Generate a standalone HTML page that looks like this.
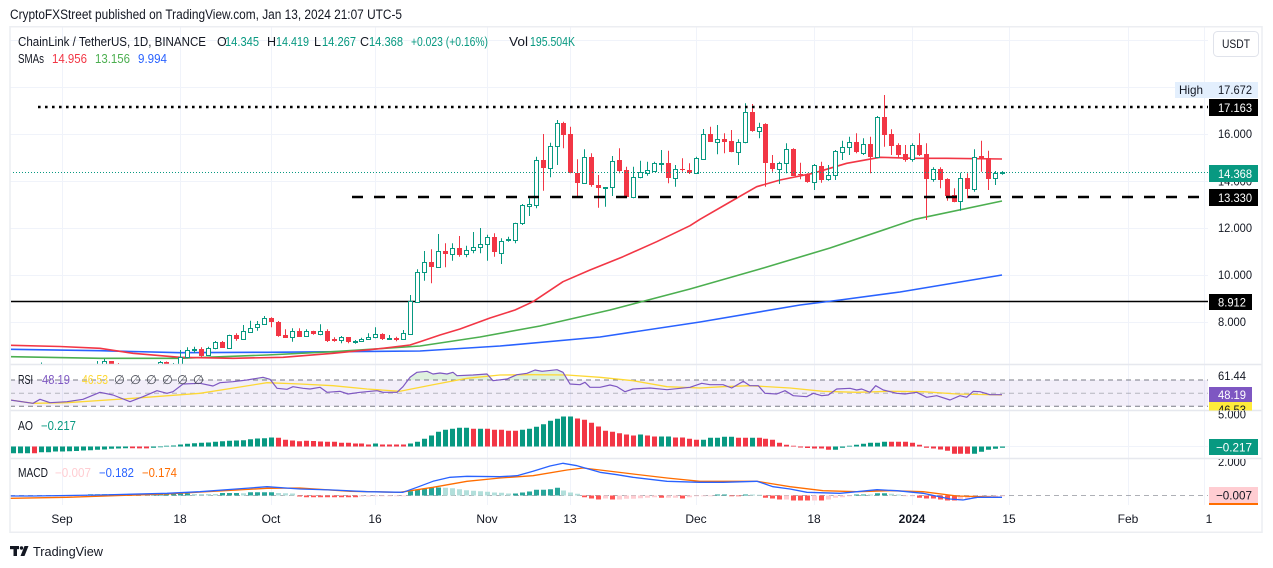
<!DOCTYPE html>
<html><head><meta charset="utf-8">
<style>
html,body{margin:0;padding:0;background:#fff;width:1273px;height:568px;overflow:hidden}
svg{display:block}
text{font-family:"Liberation Sans",sans-serif;fill:#131722}
</style></head><body>
<svg width="1273" height="568" viewBox="0 0 1273 568" xmlns="http://www.w3.org/2000/svg">
<defs>
<clipPath id="cp"><rect x="11" y="27" width="1197" height="337"/></clipPath>
<clipPath id="crsi"><rect x="11" y="365" width="1197" height="45"/></clipPath>
<clipPath id="crsiA"><rect x="1150" y="365" width="112" height="45.5"/></clipPath>
<clipPath id="cao"><rect x="1150" y="411" width="112" height="47"/></clipPath>
<clipPath id="cmacd"><rect x="1150" y="459" width="112" height="46"/></clipPath>
<clipPath id="cob"><rect x="11" y="360" width="1197" height="20"/></clipPath>
</defs>
<rect x="0" y="0" width="1273" height="568" fill="#fff"/>

<!-- grid -->
<g stroke="#f0f3fa" stroke-width="1">
<line x1="62.5" x2="62.5" y1="27" y2="505"/>
<line x1="180.5" x2="180.5" y1="27" y2="505"/>
<line x1="271.5" x2="271.5" y1="27" y2="505"/>
<line x1="375.5" x2="375.5" y1="27" y2="505"/>
<line x1="487.5" x2="487.5" y1="27" y2="505"/>
<line x1="570.5" x2="570.5" y1="27" y2="505"/>
<line x1="696.5" x2="696.5" y1="27" y2="505"/>
<line x1="814.5" x2="814.5" y1="27" y2="505"/>
<line x1="912.5" x2="912.5" y1="27" y2="505"/>
<line x1="1009.5" x2="1009.5" y1="27" y2="505"/>
<line x1="1128.5" x2="1128.5" y1="27" y2="505"/>
<line x1="1204.5" x2="1204.5" y1="27" y2="505"/>
<line x1="10" x2="1208" y1="40.5" y2="40.5"/>
<line x1="10" x2="1208" y1="87.5" y2="87.5"/>
<line x1="10" x2="1208" y1="134.5" y2="134.5"/>
<line x1="10" x2="1208" y1="181.5" y2="181.5"/>
<line x1="10" x2="1208" y1="228.5" y2="228.5"/>
<line x1="10" x2="1208" y1="275.5" y2="275.5"/>
<line x1="10" x2="1208" y1="322.5" y2="322.5"/>
<line x1="10" x2="1208" y1="446.5" y2="446.5"/>
</g>

<!-- price pane -->
<g clip-path="url(#cp)">
<line x1="10" x2="1208" y1="301.5" y2="301.5" stroke="#000" stroke-width="1.6"/>
<polyline fill="none" stroke="#2962ff" stroke-width="1.6" stroke-linejoin="round" points="10,349.3 100,350.7 180,352.7 267,352.3 420,351 500,346 600,337 700,322 800,305 840,300 900,292 1002,275"/>
<polyline fill="none" stroke="#4caf50" stroke-width="1.6" stroke-linejoin="round" points="10,356.7 100,358.3 180,358.3 267,355 333,351.7 420,346 480,337 540,326 610,310 690,289 760,269 830,248 915,219.3 1002,201"/>
<polyline fill="none" stroke="#f23645" stroke-width="1.6" stroke-linejoin="round" points="10,345.3 60,346.5 100,348.3 133,353.3 180,357.3 233,358.3 283,357.3 333,353.3 383,348.3 410,345 420,341.7 440,335 460,329 490,318 515,310 533,301.7 563,281.7 590,270 623,256.7 656.7,241.7 690,225.7 700,219.3 730,202 756.7,186.7 780,180 813,173.3 846.7,163.3 880,157.3 913,158.3 946.7,158.3 1002,159"/>

<!-- red wicks -->
<path fill="none" stroke="#f23645" stroke-width="1" d="M13.5 366V378M27.5 366V376M48.5 364V372M55.5 366V374M62.5 367V376M69.5 368V378M76.5 368V380M111.5 361V369M118.5 363V370M125.5 365V373M132.5 366V378M146.5 366V374M166.5 361.5V369M201.5 347.3V356.7M222.5 341V348M236.5 333.3V340.7M271.5 317.3V327.3M278.5 321V336.7M285.5 329.3V337.7M299.5 328.3V337M313.5 330.7V334.7M327.5 329.3V342M334.5 337.3V341.7M348.5 337V343.3M382.5 333.3V340M396.5 336.7V341.3M431.5 249.3V283.3M445.5 243.3V267.3M459.5 236V256.7M494.5 233.3V256.7M543.5 134V190.7M563.5 121.7V148.3M570.5 126.7V173.3M577.5 159.3V196M591.5 153.3V186.7M598.5 175V207.7M619.5 148.3V173.3M626.5 166.7V197.3M668.5 150.7V183.3M682.5 158.3V171.7M689.5 163.3V174M710.5 126.7V141.7M724.5 133.3V153.3M731.5 130V152.3M752.5 104V131.7M765.5 123.3V186.7M772.5 155V171.7M793.5 148.3V176M800.5 162.7V179.3M807.5 173.3V182.7M821.5 161.7V182.7M856.5 133.3V153.3M870.5 136.7V173.3M884.5 95V146.7M891.5 129.3V155M898.5 143.3V158.3M905.5 145V161.7M919.5 133.3V156M926.5 143.3V220M940.5 167.3V188.3M947.5 178.3V200.7M954.5 188.3V202.3M967.5 173.3V198.3M981.5 140.7V171.7M988.5 150.7V190"/>
<!-- red bodies -->
<path fill="#f23645" d="M11 370h5v2h-5zM25 369h5v2h-5zM46 365h5v4h-5zM53 369h5v2h-5zM60 371h5v1h-5zM67 372h5v2h-5zM74 374h5v2h-5zM109 361h5v5h-5zM116 366h5v2h-5zM123 368h5v2h-5zM130 370h5v4h-5zM144 368h5v2h-5zM164 362h5v4h-5zM199 349h5v7h-5zM220 342h5v6h-5zM234 335h5v4h-5zM269 318h5v4h-5zM276 322h5v14h-5zM283 335h5v3h-5zM297 331h5v6h-5zM311 331h5v3h-5zM325 331h5v10h-5zM332 339h5v2h-5zM346 337h5v5h-5zM380 334h5v5h-5zM394 338h5v2h-5zM429 262h5v5h-5zM443 251h5v3h-5zM457 248h5v7h-5zM492 237h5v15h-5zM541 160h5v8h-5zM561 123h5v12h-5zM568 134h5v39h-5zM575 173h5v10h-5zM589 157h5v28h-5zM596 185h5v3h-5zM617 160h5v11h-5zM624 170h5v27h-5zM666 163h5v15h-5zM680 169h5v1h-5zM687 170h5v3h-5zM708 134h5v8h-5zM722 139h5v3h-5zM729 141h5v11h-5zM750 112h5v19h-5zM763 124h5v39h-5zM770 163h5v6h-5zM791 149h5v27h-5zM798 174h5v1h-5zM805 174h5v8h-5zM819 166h5v14h-5zM854 142h5v10h-5zM868 144h5v13h-5zM882 117h5v18h-5zM889 134h5v12h-5zM896 145h5v10h-5zM903 154h5v6h-5zM917 145h5v10h-5zM924 154h5v25h-5zM938 169h5v11h-5zM945 179h5v17h-5zM952 195h5v7h-5zM965 178h5v11h-5zM979 156h5v2h-5zM986 158h5v21h-5z"/>
<!-- green wicks -->
<path fill="none" stroke="#089981" stroke-width="1" d="M20.5 367V369.5M20.5 372.5V377M34.5 366V368.5M34.5 371.5V378M41.5 362.5V365.5M41.5 368.5V372M83.5 370V372.5M83.5 376.5V383M90.5 366V367.5M90.5 372.5V376M97.5 361V364.5M97.5 367.5V370M104.5 359V361.5M104.5 364.5V367M139.5 366V368.5M139.5 374.5V380M153.5 365V366.5M153.5 370.5V374M160.5 361V362.5M160.5 366.5V369M173.5 363V365.5M173.5 366.5V370M180.5 350V357.5M180.5 364.5V365M187.5 347.3V350.5M187.5 357.5V358.3M194.5 346.7V349.5M194.5 350.5V352.7M208.5 346.7V348.5M208.5 355.5V356M215.5 341V342.5M215.5 348.5V349.3M229.5 334.7V335.5M243.5 325V331.5M250.5 320.7V328.5M257.5 321V324.5M257.5 327.5V330.7M264.5 316V318.5M264.5 324.5V325M292.5 328.3V331.5M292.5 337.5V341.7M306.5 329.3V331.5M320.5 324.3V331.5M320.5 334.5V335.3M341.5 336V337.5M341.5 340.5V343.3M355.5 340V341.5M355.5 342.5V343.7M361.5 337.7V339.5M368.5 333.3V337.5M375.5 327.3V334.5M375.5 337.5V338.3M389.5 335V338.5M389.5 339.5V340M403.5 330V333.5M403.5 339.5V340M410.5 295V301.5M410.5 334.5V335M417.5 269.3V272.5M424.5 251V262.5M424.5 272.5V280.7M438.5 234V251.5M452.5 243.3V248.5M452.5 254.5V260.7M466.5 245.7V250.5M466.5 254.5V257.3M473.5 232V247.5M473.5 250.5V253.3M480.5 228V244.5M480.5 247.5V253.3M487.5 234.7V237.5M487.5 244.5V260.7M501.5 238.3V241.5M501.5 253.5V264M508.5 236.7V239.5M508.5 240.5V241.7M515.5 222.7V223.5M515.5 240.5V243.3M522.5 204V205.5M522.5 223.5V225M529.5 198.3V204.5M529.5 206.5V216M536.5 156.7V160.5M536.5 205.5V208.3M550.5 142.7V146.5M550.5 168.5V177.3M557.5 120V123.5M557.5 146.5V165M584.5 149.3V157.5M584.5 183.5V184M605.5 187V187.5M605.5 188.5V206.7M612.5 156V161.5M612.5 187.5V196M633.5 166.7V177.5M633.5 197.5V198.3M640.5 160.7V172.5M640.5 177.5V178.3M647.5 161.7V170.5M647.5 173.5V175.7M654.5 161.7V163.5M661.5 150V163.5M661.5 164.5V171.7M675.5 165V169.5M675.5 178.5V186.7M696.5 156.7V158.5M696.5 173.5V174M703.5 129V134.5M703.5 159.5V160M717.5 125V139.5M717.5 142.5V154.3M738.5 139.3V142.5M738.5 152.5V165M745.5 103.3V112.5M745.5 142.5V143.3M759.5 122.7V127.5M759.5 131.5V138.3M779.5 161.7V163.5M779.5 169.5V184M786.5 143.3V149.5M786.5 163.5V173.3M814.5 164V165.5M814.5 182.5V190M828.5 165V175.5M828.5 179.5V180.7M835.5 150V151.5M835.5 175.5V180M842.5 140.7V147.5M842.5 152.5V160M849.5 136.7V142.5M849.5 147.5V155M863.5 138.3V144.5M863.5 153.5V155M877.5 116V117.5M877.5 157.5V158.3M912.5 143.3V145.5M912.5 159.5V161.7M933.5 167.3V169.5M933.5 179.5V181.7M960.5 172.7V178.5M960.5 201.5V210.7M974.5 149.3V157.5M974.5 189.5V191.7M995.5 171V173.5M995.5 178.5V185M1002.5 171.1V172.5M1002.5 173.5V174.7"/>
<!-- green hollow bodies -->
<path fill="#fff" stroke="#089981" stroke-width="1" d="M18.5 369.5h4v3h-4zM32.5 368.5h4v3h-4zM39.5 365.5h4v3h-4zM81.5 372.5h4v4h-4zM88.5 367.5h4v5h-4zM95.5 364.5h4v3h-4zM102.5 361.5h4v3h-4zM137.5 368.5h4v6h-4zM151.5 366.5h4v4h-4zM158.5 362.5h4v4h-4zM171.5 365.5h4v1h-4zM178.5 357.5h4v7h-4zM185.5 350.5h4v7h-4zM192.5 349.5h4v1h-4zM206.5 348.5h4v7h-4zM213.5 342.5h4v6h-4zM227.5 335.5h4v13h-4zM241.5 331.5h4v8h-4zM248.5 328.5h4v4h-4zM255.5 324.5h4v3h-4zM262.5 318.5h4v6h-4zM290.5 331.5h4v6h-4zM304.5 331.5h4v5h-4zM318.5 331.5h4v3h-4zM339.5 337.5h4v3h-4zM353.5 341.5h4v1h-4zM359.5 339.5h4v2h-4zM366.5 337.5h4v2h-4zM373.5 334.5h4v3h-4zM387.5 338.5h4v1h-4zM401.5 333.5h4v6h-4zM408.5 301.5h4v33h-4zM415.5 272.5h4v30h-4zM422.5 262.5h4v10h-4zM436.5 251.5h4v16h-4zM450.5 248.5h4v6h-4zM464.5 250.5h4v4h-4zM471.5 247.5h4v3h-4zM478.5 244.5h4v3h-4zM485.5 237.5h4v7h-4zM499.5 241.5h4v12h-4zM506.5 239.5h4v1h-4zM513.5 223.5h4v17h-4zM520.5 205.5h4v18h-4zM527.5 204.5h4v2h-4zM534.5 160.5h4v45h-4zM548.5 146.5h4v22h-4zM555.5 123.5h4v23h-4zM582.5 157.5h4v26h-4zM603.5 187.5h4v1h-4zM610.5 161.5h4v26h-4zM631.5 177.5h4v20h-4zM638.5 172.5h4v5h-4zM645.5 170.5h4v3h-4zM652.5 163.5h4v8h-4zM659.5 163.5h4v1h-4zM673.5 169.5h4v9h-4zM694.5 158.5h4v15h-4zM701.5 134.5h4v25h-4zM715.5 139.5h4v3h-4zM736.5 142.5h4v10h-4zM743.5 112.5h4v30h-4zM757.5 127.5h4v4h-4zM777.5 163.5h4v6h-4zM784.5 149.5h4v14h-4zM812.5 165.5h4v17h-4zM826.5 175.5h4v4h-4zM833.5 151.5h4v24h-4zM840.5 147.5h4v5h-4zM847.5 142.5h4v5h-4zM861.5 144.5h4v9h-4zM875.5 117.5h4v40h-4zM910.5 145.5h4v14h-4zM931.5 169.5h4v10h-4zM958.5 178.5h4v23h-4zM972.5 157.5h4v32h-4zM993.5 173.5h4v5h-4zM1000.5 172.5h4v1h-4z"/>

<!-- horizontal drawings -->
<line x1="38" x2="1208" y1="107" y2="107" stroke="#000" stroke-width="2.6" stroke-dasharray="2.6 4.4"/>
<line x1="352" x2="1208" y1="197" y2="197" stroke="#000" stroke-width="2.6" stroke-dasharray="11 11"/>
<line x1="10" x2="1208" y1="172.5" y2="172.5" stroke="#089981" stroke-width="1" stroke-dasharray="1 2"/>
</g>

<!-- RSI pane -->
<g clip-path="url(#crsi)">
<rect x="10" y="380" width="1198" height="26.3" fill="rgba(126,87,194,0.1)"/>
<g clip-path="url(#cob)">
<polygon fill="rgba(76,175,80,0.18)" points="10,380 10,400 33,403.3 40,399.3 50,402.7 67,401.7 83,399.3 100,392.3 113,395 130,401.7 143,396.7 157,390.7 167,393.3 173,391.7 183,384 200,383.3 213,386 220,382.7 233,381.7 247,380 263,377.3 270,379.3 277,388.3 287,389.3 293,386.7 303,388.3 310,389 320,387.3 327,392.3 340,391.3 348,394 360,392.3 377,390.7 383,392.3 397,392.3 403,386.7 410,377.3 417,372.3 427,371.3 433,374 440,373 447,374 453,372.3 457,375.7 473,375 487,374 493,380.7 507,379 517,374.7 527,373.3 535,370 542,371.3 548,370.7 557,369.7 563,372.3 570,384 580,384.7 585,382.3 590,387.3 600,387.3 1002,394.7 1002,380"/>
</g>
<line x1="10" x2="1208" y1="380" y2="380" stroke="#787b86" stroke-width="1" stroke-dasharray="5 4"/>
<line x1="10" x2="1208" y1="393.3" y2="393.3" stroke="rgba(120,123,134,0.5)" stroke-width="1" stroke-dasharray="5 4"/>
<line x1="10" x2="1208" y1="406.3" y2="406.3" stroke="#787b86" stroke-width="1" stroke-dasharray="5 4"/>
<polyline fill="none" stroke="#fdd835" stroke-width="1.3" stroke-linejoin="round" points="10,400 33,403.3 67,402.7 133,398.3 200,393.3 267,382.7 300,384 333,385.7 367,389 400,391.3 433,384.7 467,378.3 500,375 533,374.7 567,375 600,377.3 633,380.7 667,386.7 700,388 723,386.7 750,385.7 790,388 823,391.3 857,392.3 890,391.3 923,391.7 957,394 1002,395"/>
<polyline fill="none" stroke="#7e57c2" stroke-width="1.2" stroke-linejoin="round" points="10,400 33,403.3 40,399.3 50,402.7 67,401.7 83,399.3 100,392.3 113,395 130,401.7 143,396.7 157,390.7 167,393.3 173,391.7 183,384 200,383.3 213,386 220,382.7 233,381.7 247,380 263,377.3 270,379.3 277,388.3 287,389.3 293,386.7 303,388.3 310,389 320,387.3 327,392.3 340,391.3 348,394 360,392.3 377,390.7 383,392.3 397,392.3 403,386.7 410,377.3 417,372.3 427,371.3 433,374 440,373 447,374 453,372.3 457,375.7 473,375 487,374 493,380.7 507,379 517,374.7 527,373.3 535,370 542,371.3 548,370.7 557,369.7 563,372.3 570,384 580,384.7 585,382.3 590,387.3 600,387.3 610,385 617,386.7 625,391.7 633,389 650,388 667,389.7 690,387.3 701.7,383.3 710,384.7 723,384.7 731.7,388 743.3,381.3 750,385.7 758.3,385.7 765,393.3 776.7,394 785,390.7 793.3,395.7 806.7,396.7 813.3,393.3 821.7,395.7 828.3,395 836.7,389 850,388.3 856.7,390 861.7,389 870,392.3 875.7,385.7 883.3,390 896.7,393.3 905,394 916.7,392.3 926.7,397.3 936.7,395.7 950,400 960,395.7 966.7,397.3 973.3,391.3 980,391.7 990,394.7 1002,394.7"/>
</g>

<!-- AO -->
<path fill="#089981" d="M11 446.5h5V453.2h-5zM18 446.5h5V453.2h-5zM25 446.5h5V453.2h-5zM39 446.5h5V452.2h-5zM46 446.5h5V452.2h-5zM53 446.5h5V451.5h-5zM60 446.5h5V451.5h-5zM67 446.5h5V451.2h-5zM74 446.5h5V451h-5zM81 446.5h5V450.5h-5zM88 446.5h5V450.3h-5zM95 446.5h5V449.8h-5zM102 446.5h5V449.5h-5zM109 446.5h5V448.8h-5zM116 446.5h5V448.5h-5zM123 446.5h5V448.2h-5zM151 446.5h5V447.8h-5zM158 446.5h5V447.3h-5zM164 446.5h5V445.7h-5zM171 446.5h5V445.5h-5zM178 446.5h5V444.5h-5zM185 446.5h5V443.8h-5zM192 446.5h5V443.2h-5zM199 446.5h5V442.8h-5zM206 446.5h5V442.5h-5zM213 446.5h5V441.8h-5zM220 446.5h5V441.2h-5zM227 446.5h5V440.8h-5zM234 446.5h5V440.5h-5zM241 446.5h5V440.2h-5zM248 446.5h5V439.2h-5zM255 446.5h5V438.5h-5zM262 446.5h5V438.2h-5zM269 446.5h5V437.5h-5zM373 446.5h5V443.5h-5zM408 446.5h5V443.5h-5zM415 446.5h5V441.8h-5zM422 446.5h5V438.8h-5zM429 446.5h5V435.5h-5zM436 446.5h5V431.8h-5zM443 446.5h5V429.8h-5zM450 446.5h5V428.8h-5zM457 446.5h5V427.8h-5zM464 446.5h5V427.8h-5zM478 446.5h5V428.8h-5zM520 446.5h5V429.8h-5zM527 446.5h5V428.8h-5zM534 446.5h5V426.8h-5zM541 446.5h5V424.2h-5zM548 446.5h5V420.8h-5zM555 446.5h5V418.8h-5zM561 446.5h5V416.5h-5zM568 446.5h5V416.5h-5zM638 446.5h5V434.5h-5zM659 446.5h5V436.5h-5zM666 446.5h5V436.5h-5zM701 446.5h5V439.8h-5zM708 446.5h5V437.8h-5zM715 446.5h5V437.8h-5zM722 446.5h5V436.8h-5zM729 446.5h5V436.8h-5zM750 446.5h5V437.8h-5zM833 446.5h5V449.8h-5zM840 446.5h5V447.8h-5zM847 446.5h5V445.7h-5zM854 446.5h5V444.8h-5zM861 446.5h5V443.8h-5zM868 446.5h5V442.8h-5zM875 446.5h5V442.8h-5zM882 446.5h5V441.8h-5zM972 446.5h5V453.8h-5zM979 446.5h5V451.8h-5zM986 446.5h5V449.8h-5zM993 446.5h5V448.8h-5zM1000 446.5h5V447.8h-5z"/>
<path fill="#f23645" d="M32 446.5h5V453.2h-5zM130 446.5h5V448.3h-5zM137 446.5h5V448.4h-5zM144 446.5h5V448.4h-5zM276 446.5h5V437.8h-5zM283 446.5h5V439.8h-5zM290 446.5h5V440.5h-5zM297 446.5h5V441.2h-5zM304 446.5h5V440.8h-5zM311 446.5h5V441h-5zM318 446.5h5V441.5h-5zM325 446.5h5V441.8h-5zM332 446.5h5V441.8h-5zM339 446.5h5V442.8h-5zM346 446.5h5V442.8h-5zM353 446.5h5V443.5h-5zM359 446.5h5V443.5h-5zM366 446.5h5V444.5h-5zM380 446.5h5V444.5h-5zM387 446.5h5V444.5h-5zM394 446.5h5V444.5h-5zM401 446.5h5V444.5h-5zM471 446.5h5V428.8h-5zM485 446.5h5V428.8h-5zM492 446.5h5V429.8h-5zM499 446.5h5V429.8h-5zM506 446.5h5V430.8h-5zM513 446.5h5V430.8h-5zM575 446.5h5V418.5h-5zM582 446.5h5V419.8h-5zM589 446.5h5V422.8h-5zM596 446.5h5V426.5h-5zM603 446.5h5V430.8h-5zM610 446.5h5V431.8h-5zM617 446.5h5V433.2h-5zM624 446.5h5V434.5h-5zM631 446.5h5V435.5h-5zM645 446.5h5V435.5h-5zM652 446.5h5V436.5h-5zM673 446.5h5V437.5h-5zM680 446.5h5V437.5h-5zM687 446.5h5V438.8h-5zM694 446.5h5V439.8h-5zM736 446.5h5V437.8h-5zM743 446.5h5V437.8h-5zM757 446.5h5V437.8h-5zM763 446.5h5V438.8h-5zM770 446.5h5V439.8h-5zM777 446.5h5V442.8h-5zM784 446.5h5V444.8h-5zM791 446.5h5V445.7h-5zM798 446.5h5V447.5h-5zM805 446.5h5V448h-5zM812 446.5h5V448.5h-5zM819 446.5h5V448.5h-5zM826 446.5h5V449.8h-5zM889 446.5h5V441.8h-5zM896 446.5h5V441.8h-5zM903 446.5h5V441.8h-5zM910 446.5h5V442.8h-5zM917 446.5h5V444.8h-5zM924 446.5h5V447.8h-5zM931 446.5h5V448.5h-5zM938 446.5h5V449.5h-5zM945 446.5h5V450.8h-5zM952 446.5h5V453.8h-5zM958 446.5h5V453.8h-5zM965 446.5h5V453.8h-5z"/>

<!-- MACD -->
<line x1="10" x2="1208" y1="495.5" y2="495.5" stroke="rgba(120,123,134,0.6)" stroke-width="1" stroke-dasharray="5 4"/>
<path fill="#ff5252" d="M11 495.5h5V496.5h-5zM18 495.5h5V496.5h-5zM25 495.5h5V496.5h-5zM32 495.5h5V496.5h-5zM297 495.5h5V496.5h-5zM304 495.5h5V497.2h-5zM311 495.5h5V497.2h-5zM318 495.5h5V497.2h-5zM325 495.5h5V497.2h-5zM332 495.5h5V497.2h-5zM339 495.5h5V497.2h-5zM346 495.5h5V497.2h-5zM353 495.5h5V497.2h-5zM582 495.5h5V497.2h-5zM589 495.5h5V498.5h-5zM596 495.5h5V499.5h-5zM610 495.5h5V499.5h-5zM659 495.5h5V497.8h-5zM680 495.5h5V498.5h-5zM729 495.5h5V496.3h-5zM736 495.5h5V496.3h-5zM763 495.5h5V497.8h-5zM770 495.5h5V498.5h-5zM777 495.5h5V499.5h-5zM791 495.5h5V500.5h-5zM798 495.5h5V500.5h-5zM805 495.5h5V500.5h-5zM819 495.5h5V500.5h-5zM917 495.5h5V497.8h-5zM924 495.5h5V498.5h-5zM931 495.5h5V498.5h-5zM938 495.5h5V499.5h-5zM945 495.5h5V500.5h-5zM952 495.5h5V500.5h-5z"/>
<path fill="#ffcdd2" d="M39 495.5h5V496.3h-5zM46 495.5h5V496.3h-5zM53 495.5h5V496.3h-5zM60 495.5h5V496.3h-5zM67 495.5h5V496.3h-5zM74 495.5h5V496.3h-5zM81 495.5h5V496.3h-5zM359 495.5h5V496.5h-5zM366 495.5h5V496.5h-5zM373 495.5h5V496.3h-5zM380 495.5h5V496.3h-5zM387 495.5h5V496.3h-5zM394 495.5h5V496.3h-5zM401 495.5h5V496.3h-5zM603 495.5h5V498.5h-5zM617 495.5h5V499.5h-5zM624 495.5h5V498.8h-5zM631 495.5h5V498.8h-5zM638 495.5h5V498.2h-5zM645 495.5h5V497.8h-5zM652 495.5h5V497.2h-5zM666 495.5h5V497.8h-5zM673 495.5h5V497.8h-5zM687 495.5h5V497.2h-5zM694 495.5h5V496.3h-5zM701 495.5h5V496.3h-5zM708 495.5h5V496.3h-5zM784 495.5h5V499.5h-5zM812 495.5h5V500.5h-5zM826 495.5h5V499.5h-5zM833 495.5h5V497.8h-5zM840 495.5h5V497.2h-5zM847 495.5h5V496.3h-5zM903 495.5h5V496.3h-5zM910 495.5h5V496.3h-5zM958 495.5h5V500.5h-5zM965 495.5h5V499.5h-5zM972 495.5h5V498.5h-5zM979 495.5h5V497.8h-5zM986 495.5h5V497.2h-5zM993 495.5h5V496.5h-5zM1000 495.5h5V496.3h-5z"/>
<path fill="#26a69a" d="M88 495.5h5V494.2h-5zM95 495.5h5V494.2h-5zM102 495.5h5V494.2h-5zM109 495.5h5V494.2h-5zM116 495.5h5V494.2h-5zM151 495.5h5V494.2h-5zM158 495.5h5V494.2h-5zM164 495.5h5V494h-5zM171 495.5h5V493.8h-5zM178 495.5h5V493.5h-5zM185 495.5h5V493.5h-5zM220 495.5h5V493h-5zM227 495.5h5V493h-5zM234 495.5h5V493h-5zM248 495.5h5V492.2h-5zM255 495.5h5V492.2h-5zM262 495.5h5V492.2h-5zM269 495.5h5V492.2h-5zM408 495.5h5V491.2h-5zM415 495.5h5V489.8h-5zM422 495.5h5V488.5h-5zM429 495.5h5V487.8h-5zM436 495.5h5V487.5h-5zM513 495.5h5V493.5h-5zM520 495.5h5V492.5h-5zM527 495.5h5V491.5h-5zM534 495.5h5V489.8h-5zM541 495.5h5V489.8h-5zM548 495.5h5V489.2h-5zM555 495.5h5V487.8h-5zM715 495.5h5V494.5h-5zM722 495.5h5V494.5h-5zM743 495.5h5V494.5h-5zM854 495.5h5V494.5h-5zM861 495.5h5V494.5h-5zM875 495.5h5V493.2h-5zM882 495.5h5V493.2h-5z"/>
<path fill="#b2dfdb" d="M123 495.5h5V494.5h-5zM130 495.5h5V494.5h-5zM137 495.5h5V494.5h-5zM144 495.5h5V494.5h-5zM192 495.5h5V494h-5zM199 495.5h5V494h-5zM206 495.5h5V494h-5zM213 495.5h5V494h-5zM241 495.5h5V493.2h-5zM276 495.5h5V493h-5zM283 495.5h5V493.2h-5zM290 495.5h5V493.5h-5zM443 495.5h5V487.8h-5zM450 495.5h5V488.2h-5zM457 495.5h5V489.2h-5zM464 495.5h5V490.2h-5zM471 495.5h5V490.8h-5zM478 495.5h5V491.2h-5zM485 495.5h5V491.8h-5zM492 495.5h5V492.5h-5zM499 495.5h5V492.8h-5zM506 495.5h5V493.5h-5zM561 495.5h5V490.5h-5zM568 495.5h5V492.5h-5zM575 495.5h5V493.8h-5zM750 495.5h5V494.5h-5zM757 495.5h5V494.7h-5zM868 495.5h5V494.5h-5zM889 495.5h5V493.8h-5zM896 495.5h5V494.5h-5z"/>
<polyline fill="none" stroke="#ff6d00" stroke-width="1.3" stroke-linejoin="round" points="10,498.3 67,497.3 167,494 267,488.3 300,488 350,491.3 400,492.3 433,487.3 467,481.3 500,478 533,475.7 567,470 583,468 600,470 633,474 667,478 700,481.3 757,481.3 790,486.7 823,490.7 857,491.7 890,490.7 923,491.7 957,496 1002,497.3"/>
<polyline fill="none" stroke="#2962ff" stroke-width="1.3" stroke-linejoin="round" points="10,496 33,496 100,495 167,493.3 200,491.7 267,486.7 300,489 333,490 367,491.7 403,492.3 417,487.3 433,481.3 450,477.3 467,476.3 500,476.7 517,475.7 533,471.3 550,466 563,463.3 577,465.7 600,472.3 617,474.7 633,477.3 667,481.3 700,482.3 723,482.3 757,481.3 773,486.7 790,489 807,492.3 840,493.3 857,491.7 877,489.7 897,490.7 923,493.3 950,499 963,500 977,497.3 1002,497.3"/>

<!-- frame and separators -->
<g stroke="#e6e8ee" stroke-width="1.5">
<line x1="10" x2="1262" y1="364.5" y2="364.5"/>
<line x1="10" x2="1262" y1="410.5" y2="410.5"/>
<line x1="10" x2="1262" y1="458.5" y2="458.5"/>
</g>
<rect x="10" y="26.75" width="1252" height="505.5" fill="none" stroke="#eceef2" stroke-width="1.5"/>

<!-- header -->
<text x="10" y="19" font-size="13.5" textLength="392" lengthAdjust="spacingAndGlyphs">CryptoFXStreet published on TradingView.com, Jan 13, 2024 21:07 UTC-5</text>

<!-- legend row 1 -->
<g font-size="12.5">
<text x="18" y="46" textLength="188" lengthAdjust="spacingAndGlyphs">ChainLink / TetherUS, 1D, BINANCE</text>
<text x="217" y="46">O</text><text x="225" y="46" style="fill:#089981" textLength="34" lengthAdjust="spacingAndGlyphs">14.345</text>
<text x="267" y="46">H</text><text x="276" y="46" style="fill:#089981" textLength="33" lengthAdjust="spacingAndGlyphs">14.419</text>
<text x="314" y="46">L</text><text x="322" y="46" style="fill:#089981" textLength="34" lengthAdjust="spacingAndGlyphs">14.267</text>
<text x="360" y="46">C</text><text x="369" y="46" style="fill:#089981" textLength="34" lengthAdjust="spacingAndGlyphs">14.368</text>
<text x="411" y="46" style="fill:#089981" textLength="77" lengthAdjust="spacingAndGlyphs">+0.023 (+0.16%)</text>
<text x="509" y="46" textLength="19" lengthAdjust="spacingAndGlyphs">Vol</text><text x="530" y="46" style="fill:#089981" textLength="45" lengthAdjust="spacingAndGlyphs">195.504K</text>
</g>
<g font-size="12.5">
<text x="18" y="63" textLength="26" lengthAdjust="spacingAndGlyphs">SMAs</text>
<text x="52" y="63" style="fill:#f23645" textLength="35" lengthAdjust="spacingAndGlyphs">14.956</text>
<text x="95" y="63" style="fill:#4caf50" textLength="35" lengthAdjust="spacingAndGlyphs">13.156</text>
<text x="138" y="63" style="fill:#2962ff" textLength="29" lengthAdjust="spacingAndGlyphs">9.994</text>
</g>

<!-- indicator legends -->
<g font-size="12.5">
<text x="18" y="384" textLength="15" lengthAdjust="spacingAndGlyphs">RSI</text>
<text x="42" y="384" style="fill:#7e57c2" textLength="28" lengthAdjust="spacingAndGlyphs">48.19</text>
<text x="82" y="384" style="fill:#fdd835" textLength="26" lengthAdjust="spacingAndGlyphs">46.53</text>
<text x="114" y="384" style="fill:#4a4d57">∅</text><text x="130" y="384" style="fill:#4a4d57">∅</text><text x="146" y="384" style="fill:#4a4d57">∅</text><text x="162" y="384" style="fill:#4a4d57">∅</text><text x="177" y="384" style="fill:#4a4d57">∅</text><text x="193" y="384" style="fill:#4a4d57">∅</text>
<text x="18" y="430" textLength="15" lengthAdjust="spacingAndGlyphs">AO</text>
<text x="41" y="430" style="fill:#089981" textLength="35" lengthAdjust="spacingAndGlyphs">−0.217</text>
<text x="18" y="477" textLength="30" lengthAdjust="spacingAndGlyphs">MACD</text>
<text x="55" y="477" style="fill:#ffcdd2" textLength="36" lengthAdjust="spacingAndGlyphs">−0.007</text>
<text x="99" y="477" style="fill:#2962ff" textLength="35" lengthAdjust="spacingAndGlyphs">−0.182</text>
<text x="142" y="477" style="fill:#ff6d00" textLength="35" lengthAdjust="spacingAndGlyphs">−0.174</text>
</g>

<!-- right axis -->
<g font-size="12">
<rect x="1213.5" y="31.5" width="45" height="25" rx="4" fill="#fff" stroke="#e0e3eb"/>
<text x="1236" y="48" text-anchor="middle" textLength="28" lengthAdjust="spacingAndGlyphs">USDT</text>
<rect x="1175" y="82" width="33" height="16" fill="#e3effd"/>
<text x="1179" y="94" textLength="24" lengthAdjust="spacingAndGlyphs">High</text>
<rect x="1208" y="82" width="50" height="16" fill="#e3effd"/>
<text x="1218" y="94" textLength="34" lengthAdjust="spacingAndGlyphs">17.672</text>
<rect x="1209" y="99" width="49" height="17" fill="#000"/>
<text x="1218" y="112" style="fill:#fff" textLength="34" lengthAdjust="spacingAndGlyphs">17.163</text>
<text x="1218" y="138" textLength="34" lengthAdjust="spacingAndGlyphs">16.000</text>
<text x="1218" y="185.5" textLength="34" lengthAdjust="spacingAndGlyphs">14.000</text>
<rect x="1209" y="165" width="49" height="17" fill="#089981"/>
<text x="1218" y="178" style="fill:#fff" textLength="34" lengthAdjust="spacingAndGlyphs">14.368</text>
<rect x="1209" y="189" width="49" height="17" fill="#000"/>
<text x="1218" y="202" style="fill:#fff" textLength="34" lengthAdjust="spacingAndGlyphs">13.330</text>
<text x="1218" y="232" textLength="34" lengthAdjust="spacingAndGlyphs">12.000</text>
<text x="1218" y="279" textLength="34" lengthAdjust="spacingAndGlyphs">10.000</text>
<rect x="1209" y="294" width="43" height="16" fill="#000"/>
<text x="1218" y="306.5" style="fill:#fff" textLength="28" lengthAdjust="spacingAndGlyphs">8.912</text>
<text x="1218" y="326" textLength="28" lengthAdjust="spacingAndGlyphs">8.000</text>
<g clip-path="url(#crsiA)">
<text x="1218" y="380" textLength="28" lengthAdjust="spacingAndGlyphs">61.44</text>
<rect x="1209" y="387" width="43" height="15" fill="#7e57c2"/>
<text x="1218" y="399" style="fill:#fff" textLength="28" lengthAdjust="spacingAndGlyphs">48.19</text>
<rect x="1209" y="402" width="43" height="15" fill="#ffeb3b"/>
<text x="1218" y="414" textLength="28" lengthAdjust="spacingAndGlyphs">46.53</text>
</g>
<g clip-path="url(#cao)">
<text x="1218" y="418.5" textLength="28" lengthAdjust="spacingAndGlyphs">5.000</text>
<rect x="1209" y="439" width="49" height="16" fill="#089981"/>
<text x="1216" y="451.5" style="fill:#fff" textLength="36" lengthAdjust="spacingAndGlyphs">−0.217</text>
</g>
<g clip-path="url(#cmacd)">
<text x="1218" y="466" textLength="28" lengthAdjust="spacingAndGlyphs">2.000</text>
<rect x="1209" y="487" width="49" height="16" fill="#ffcdd2"/>
<rect x="1209" y="503" width="49" height="2" fill="#ff6d00"/>
<text x="1216" y="499.5" textLength="36" lengthAdjust="spacingAndGlyphs">−0.007</text>
</g>
</g>

<!-- time axis -->
<g font-size="12" text-anchor="middle">
<text x="62" y="523">Sep</text>
<text x="180" y="523">18</text>
<text x="271" y="523">Oct</text>
<text x="375" y="523">16</text>
<text x="487" y="523">Nov</text>
<text x="570" y="523">13</text>
<text x="696" y="523">Dec</text>
<text x="814" y="523">18</text>
<text x="912" y="523" font-weight="bold">2024</text>
<text x="1009" y="523">15</text>
<text x="1128" y="523">Feb</text>
<text x="1209" y="523">1</text>
</g>

<!-- footer logo -->
<g fill="#131722">
<rect x="10" y="546" width="9" height="3.2"/>
<rect x="13.5" y="546" width="3.5" height="10"/>
<circle cx="21.5" cy="548" r="1.7"/>
<polygon points="24.5,546 28.5,546 24.5,556 20.5,556"/>
</g>
<text x="33" y="556" font-size="13" textLength="70" lengthAdjust="spacingAndGlyphs">TradingView</text>
</svg>
</body></html>
